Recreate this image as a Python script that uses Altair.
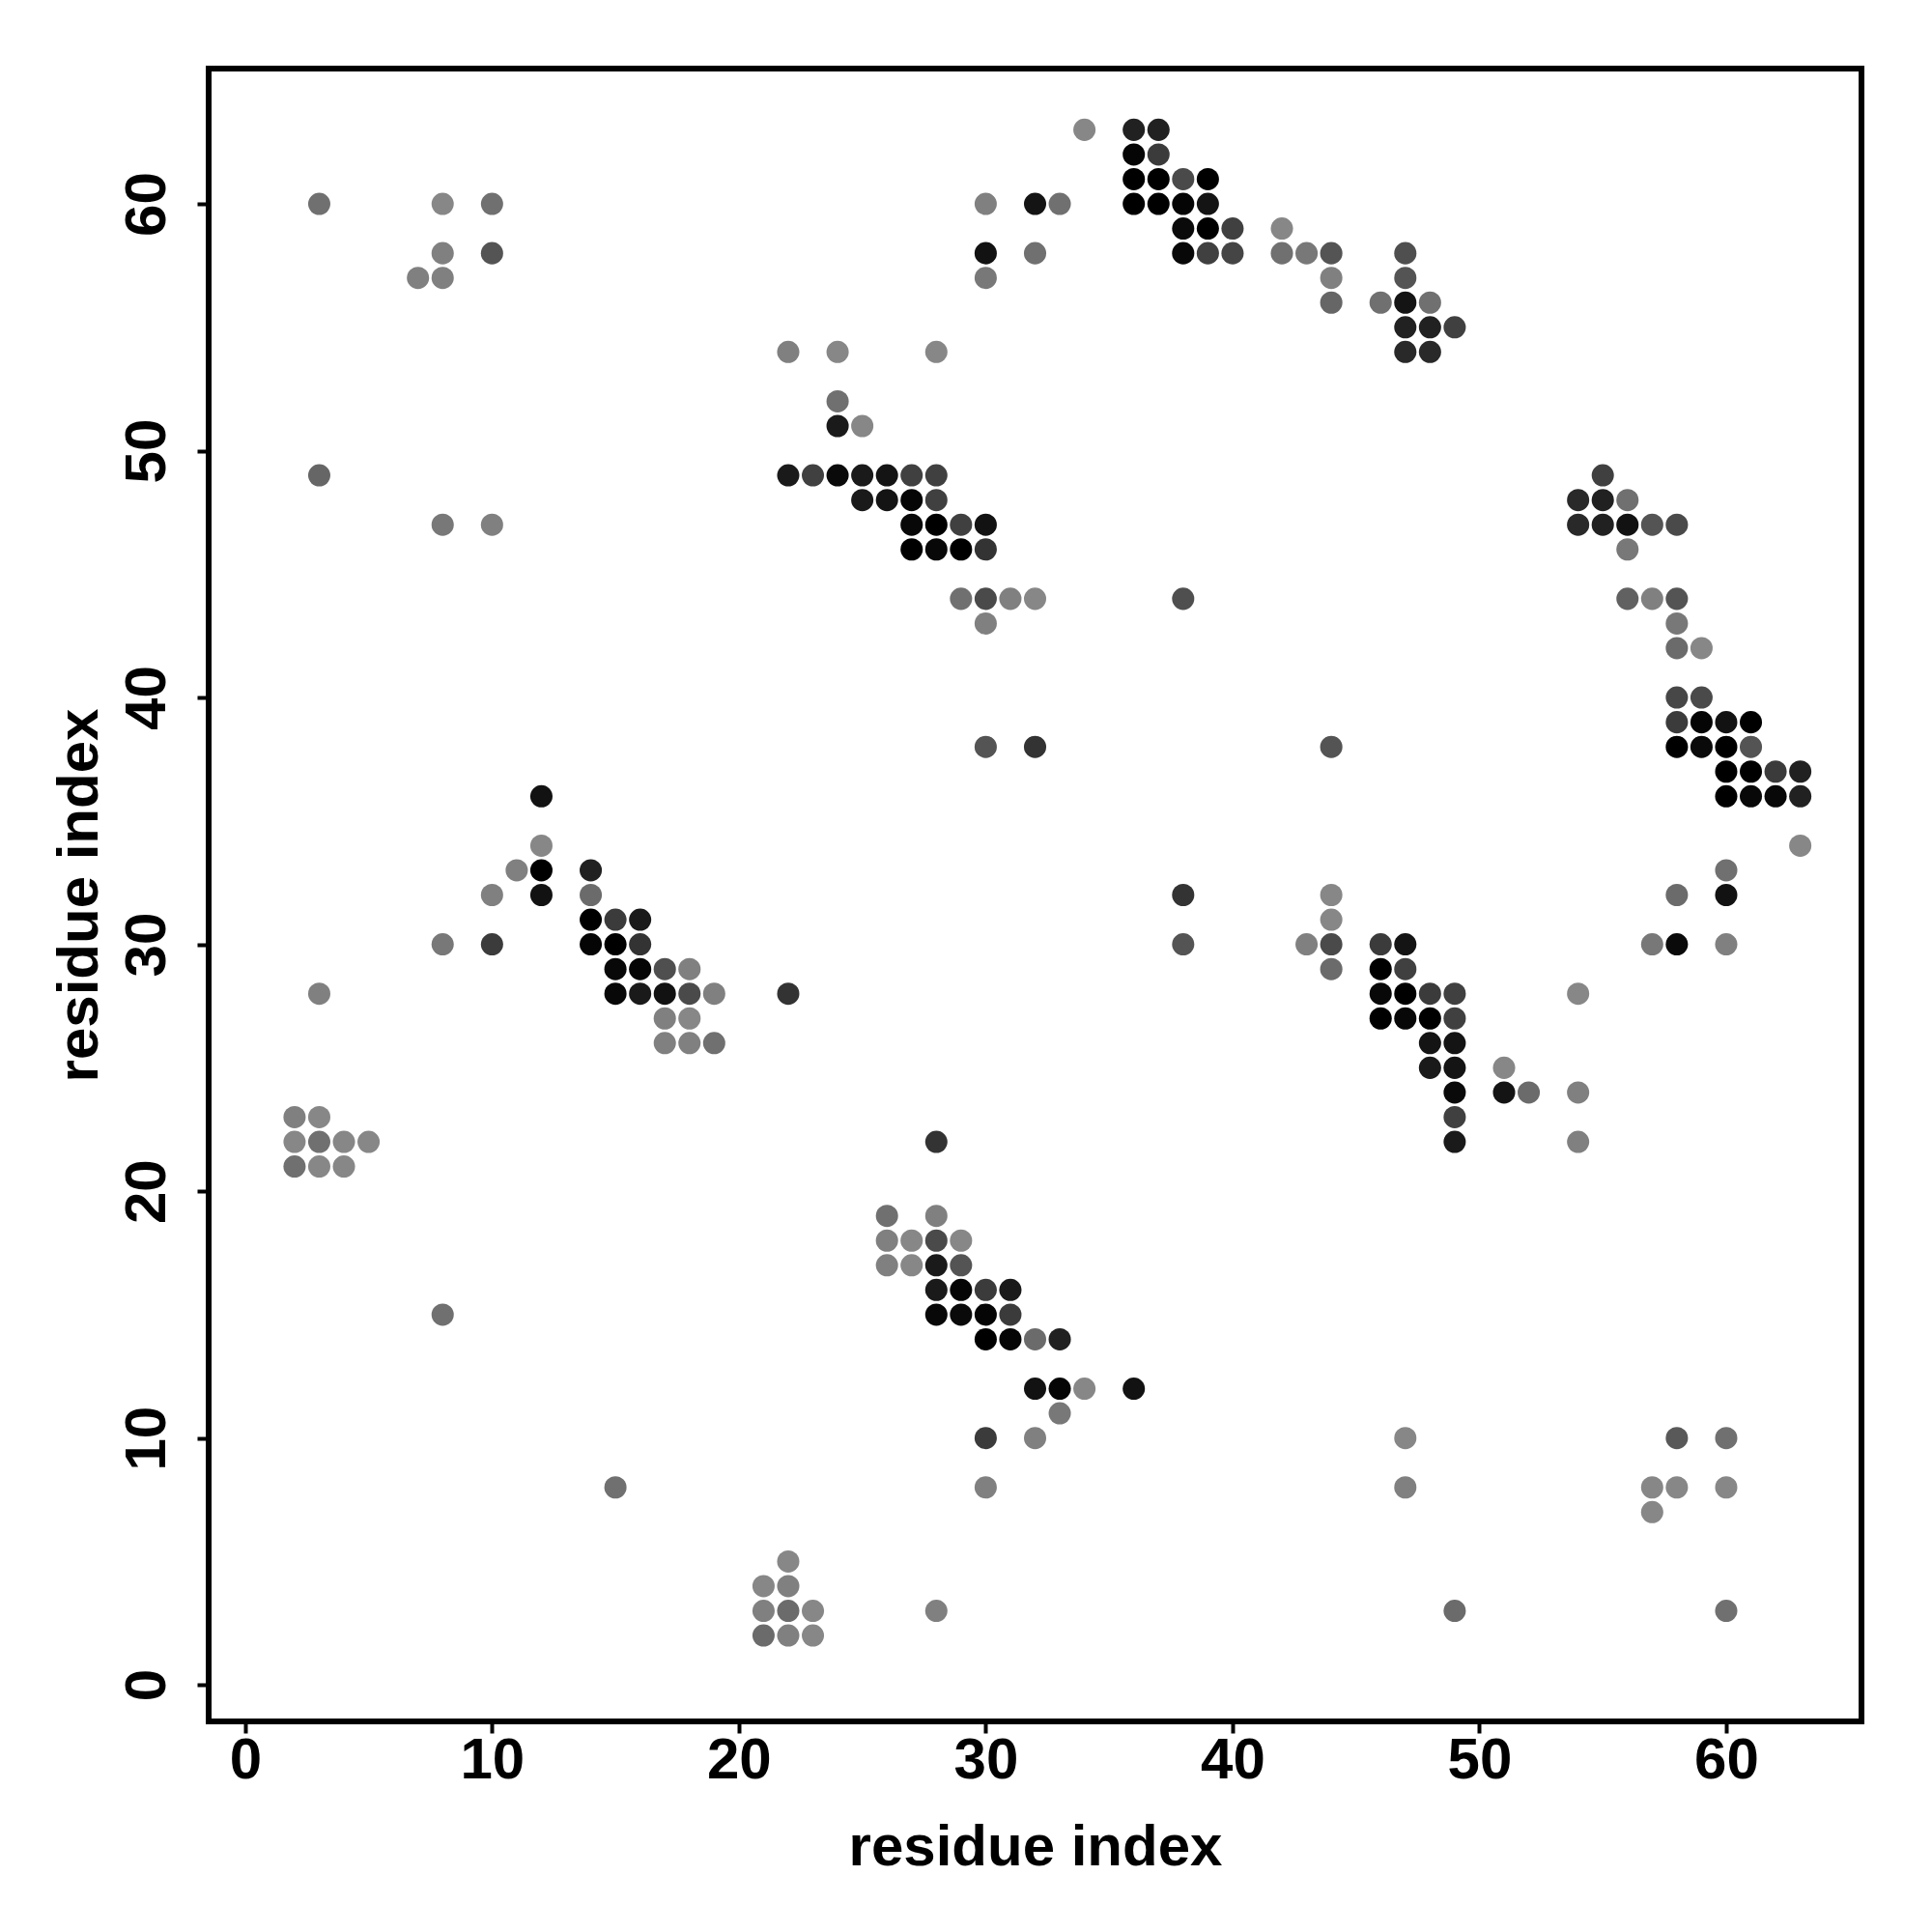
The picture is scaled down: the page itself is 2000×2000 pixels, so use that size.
import altair as alt
import pandas as pd

# contact map: residue i (x), residue j (y), predicted contact strength (grey darkness)
res_x = [
    34, 36, 37,
    36, 37,
    36, 37, 38, 39,
    3, 8, 10, 30, 32, 33, 36, 37, 38, 39,
    38, 39, 40, 42,
    8, 10, 30, 32, 38, 39, 40, 42, 43, 44, 47,
    7, 8, 30, 44, 47,
    44, 46, 47, 48,
    47, 48, 49,
    22, 24, 28, 47, 48,
    24,
    24, 25,
    3, 22, 23, 24, 25, 26, 27, 28, 55,
    25, 26, 27, 28, 54, 55, 56,
    8, 10, 27, 28, 29, 30, 54, 55, 56, 57, 58,
    27, 28, 29, 30, 56,
    29, 30, 31, 32, 38, 56, 57, 58,
    30, 58,
    58, 59,
    58, 59,
    58, 59, 60, 61,
    30, 32, 44, 58, 59, 60, 61,
    60, 61, 62, 63,
    12, 60, 61, 62, 63,
    12, 63,
    11, 12, 14, 60,
    10, 12, 14, 38, 44, 58, 60,
    14, 15, 16, 44,
    8, 10, 14, 15, 16, 38, 43, 44, 46, 47, 57, 58, 60,
    15, 16, 17, 18, 44, 46, 47,
    3, 15, 16, 17, 18, 19, 22, 46, 47, 48, 49, 54,
    17, 18, 46, 47, 48, 49,
    17, 18, 19, 48, 49,
    48, 49, 51,
    49, 51, 52, 54,
    2, 3, 49,
    2, 3, 4, 5, 28, 49, 54,
    2, 3, 4,
    26, 28,
    26, 27, 28, 29,
    26, 27, 28, 29,
    28, 29, 30, 31,
    8, 28, 29, 30, 31,
    30, 31, 32, 33,
    32, 33, 34, 36,
    33,
    30, 32, 47, 58, 60,
    15, 30, 47, 57, 58, 60,
    57,
    22,
    21, 22,
    21, 22, 23, 28, 49, 60,
    21, 22, 23,
]

res_y = [
    63, 63, 63,
    62, 62,
    61, 61, 61, 61,
    60, 60, 60, 60, 60, 60, 60, 60, 60, 60,
    59, 59, 59, 59,
    58, 58, 58, 58, 58, 58, 58, 58, 58, 58, 58,
    57, 57, 57, 57, 57,
    56, 56, 56, 56,
    55, 55, 55,
    54, 54, 54, 54, 54,
    52,
    51, 51,
    49, 49, 49, 49, 49, 49, 49, 49, 49,
    48, 48, 48, 48, 48, 48, 48,
    47, 47, 47, 47, 47, 47, 47, 47, 47, 47, 47,
    46, 46, 46, 46, 46,
    44, 44, 44, 44, 44, 44, 44, 44,
    43, 43,
    42, 42,
    40, 40,
    39, 39, 39, 39,
    38, 38, 38, 38, 38, 38, 38,
    37, 37, 37, 37,
    36, 36, 36, 36, 36,
    34, 34,
    33, 33, 33, 33,
    32, 32, 32, 32, 32, 32, 32,
    31, 31, 31, 31,
    30, 30, 30, 30, 30, 30, 30, 30, 30, 30, 30, 30, 30,
    29, 29, 29, 29, 29, 29, 29,
    28, 28, 28, 28, 28, 28, 28, 28, 28, 28, 28, 28,
    27, 27, 27, 27, 27, 27,
    26, 26, 26, 26, 26,
    25, 25, 25,
    24, 24, 24, 24,
    23, 23, 23,
    22, 22, 22, 22, 22, 22, 22,
    21, 21, 21,
    19, 19,
    18, 18, 18, 18,
    17, 17, 17, 17,
    16, 16, 16, 16,
    15, 15, 15, 15, 15,
    14, 14, 14, 14,
    12, 12, 12, 12,
    11,
    10, 10, 10, 10, 10,
    8, 8, 8, 8, 8, 8,
    7,
    5,
    4, 4,
    3, 3, 3, 3, 3, 3,
    2, 2, 2,
]

strength = [
    .47, .87, .87,
    .98, .77,
    1.0, 1.0, .71, 1.0,
    .56, .47, .56, .50, .92, .56, 1.0, 1.0, .98, .92,
    .96, 1.0, .75, .47,
    .50, .67, .93, .56, .97, .75, .73, .56, .53, .67, .69,
    .50, .50, .53, .50, .67,
    .60, .56, .92, .56,
    .87, .87, .75,
    .50, .47, .47, .84, .84,
    .56,
    .90, .47,
    .60, .90, .75, .96, .90, .92, .75, .75, .75,
    .90, .92, .98, .75, .84, .87, .56,
    .53, .50, .97, 1.0, .75, .93, .84, .87, .93, .67, .71,
    1.0, .97, 1.0, .80, .53,
    .56, .71, .50, .47, .69, .62, .50, .67,
    .50, .53,
    .58, .47,
    .72, .71,
    .77, .98, .93, 1.0,
    .67, .80, .67, 1.0, .96, 1.0, .67,
    1.0, 1.0, .77, .87,
    .93, 1.0, .97, .97, .87,
    .47, .47,
    .50, 1.0, .87, .56,
    .50, .93, .58, .80, .47, .58, .93,
    1.0, .77, .90, .47,
    .53, .77, .98, 1.0, .80, .67, .50, .71, .77, .92, .53, .96, .50,
    .97, .98, .69, .50, .58, 1.0, .75,
    .50, .97, .90, .93, .71, .50, .80, .97, 1.0, .77, .75, .47,
    .50, .47, 1.0, .97, 1.0, .75,
    .50, .50, .56, .92, .92,
    .90, .92, .47,
    .96, .92, .58, .50,
    .50, .47, .75,
    .47, .56, .47, .47, .80, .90, .50,
    .56, .47, .47,
    .56, .50,
    .50, .47, .71, .47,
    .50, .47, .90, .67,
    .90, .98, .77, .90,
    .56, .97, .96, .98, .77,
    1.0, .98, .58, .87,
    .93, .98, .47, .93,
    .53,
    .77, .50, .47, .65, .56,
    .56, .50, .50, .47, .47, .47,
    .47,
    .47,
    .47, .50,
    .50, .58, .47, .50, .58, .56,
    .58, .50, .47,
]

tick_values = [0, 10, 20, 30, 40, 50, 60]
axis_title = "residue index"

df = pd.DataFrame({"i": res_x, "j": res_y, "p": strength})

FONT = "Liberation Sans"
W = 1711
H = 1711
dom = [-1.48, 65.48]

chart = (
    alt.Chart(df)
    .mark_circle(opacity=1, strokeWidth=0)
    .encode(
        x=alt.X(
            "i:Q",
            scale=alt.Scale(domain=dom, nice=False, zero=False),
            axis=alt.Axis(
                values=tick_values,
                title=axis_title,
                labelBaseline="alphabetic",
                labelPadding=46,
                titleX=W / 2,
                titleY=148,
                titleAlign="center",
                titleBaseline="alphabetic",
            ),
        ),
        y=alt.Y(
            "j:Q",
            scale=alt.Scale(domain=dom, nice=False, zero=False),
            axis=alt.Axis(
                values=tick_values,
                title=axis_title,
                labelAngle=270,
                labelAlign="center",
                labelBaseline="alphabetic",
                labelPadding=34,
                titleAngle=270,
                titleX=-116,
                titleY=H / 2,
                titleAlign="center",
                titleBaseline="alphabetic",
            ),
        ),
        color=alt.Color(
            "p:Q",
            scale=alt.Scale(domain=[0, 1], range=["#ffffff", "#000000"], interpolate="rgb"),
            legend=None,
        ),
        size=alt.value(530),
    )
    .properties(
        width=W,
        height=H,
        background="white",
        autosize=alt.AutoSizeParams(type="none"),
        padding={"left": 208, "top": 63, "right": 65, "bottom": 210},
    )
    .configure_view(stroke="black", strokeWidth=6, fill="white")
    .configure_axis(
        grid=False,
        domain=False,
        ticks=True,
        tickSize=12,
        tickWidth=4,
        tickColor="black",
        labelFont=FONT,
        labelFontSize=60,
        labelFontWeight="bold",
        labelColor="black",
        labelFlush=False,
        labelOverlap=False,
        titleFont=FONT,
        titleFontSize=60,
        titleFontWeight="bold",
        titleColor="black",
    )
)

chart.save("out.html", embed_options={"renderer": "svg", "actions": False})
